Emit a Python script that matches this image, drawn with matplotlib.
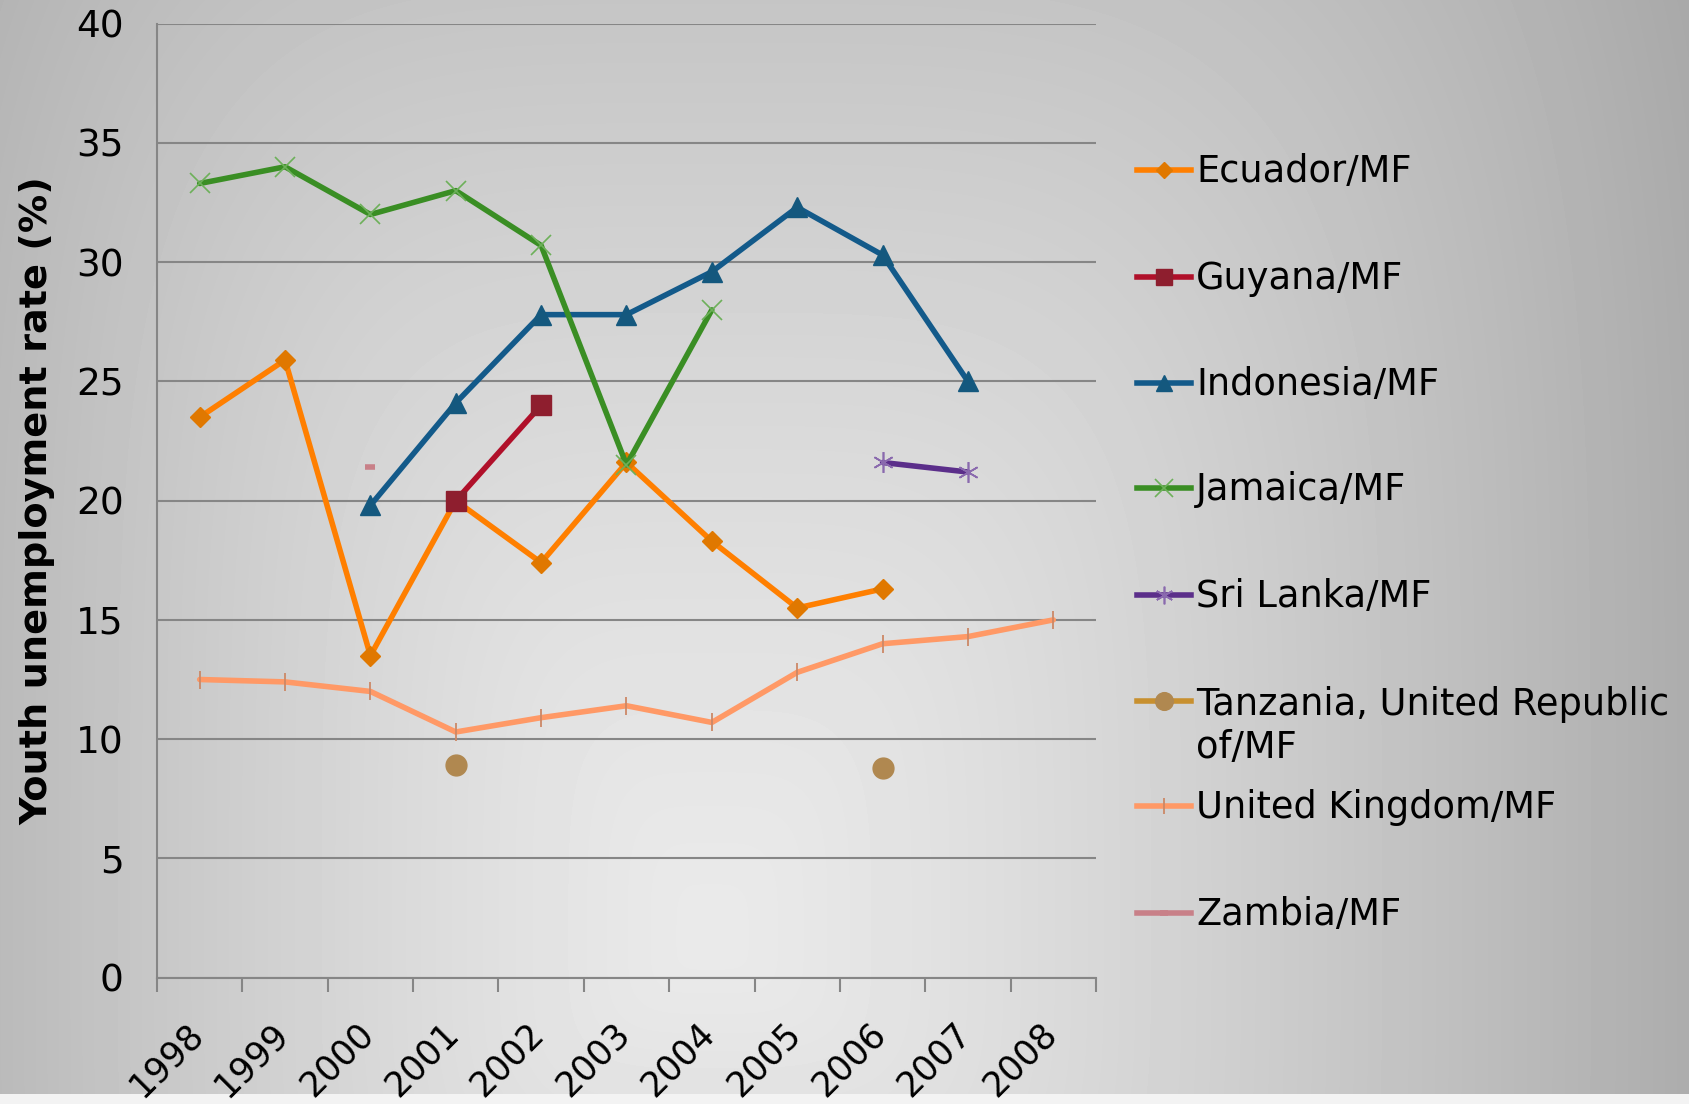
import numpy as np
import matplotlib
matplotlib.use("Agg")
import matplotlib.pyplot as plt
from matplotlib.lines import Line2D
from matplotlib.transforms import ScaledTranslation

nan = np.nan
years = ["1998", "1999", "2000", "2001", "2002", "2003", "2004", "2005", "2006", "2007", "2008"]

ecuador   = [23.5, 25.9, 13.5, 20.0, 17.4, 21.6, 18.3, 15.5, 16.3, nan, nan]
guyana    = [nan, nan, nan, 20.0, 24.0, nan, nan, nan, nan, nan, nan]
indonesia = [nan, nan, 19.8, 24.1, 27.8, 27.8, 29.6, 32.3, 30.3, 25.0, nan]
jamaica   = [33.3, 34.0, 32.0, 33.0, 30.7, 21.5, 28.0, nan, nan, nan, nan]
sri_lanka = [nan, nan, nan, nan, nan, nan, nan, nan, 21.6, 21.2, nan]
tanzania  = [nan, nan, nan, 8.9, nan, nan, nan, nan, 8.8, nan, nan]
uk        = [12.5, 12.4, 12.0, 10.3, 10.9, 11.4, 10.7, 12.8, 14.0, 14.3, 15.0]
zambia    = [nan, nan, 21.4, nan, nan, nan, nan, nan, nan, nan, nan]

labels = ["Ecuador/MF", "Guyana/MF", "Indonesia/MF", "Jamaica/MF", "Sri Lanka/MF",
          "Tanzania, United Republic\nof/MF", "United Kingdom/MF", "Zambia/MF"]
series = [ecuador, guyana, indonesia, jamaica, sri_lanka, tanzania, uk, zambia]

styles = [
    dict(color="#FF7F00", marker="D", ms=10, mfc="#E07800", mec="#E07800", mew=1),
    dict(color="#B0102A", marker="s", ms=14, mfc="#8E1E2E", mec="#8E1E2E", mew=1),
    dict(color="#135A8A", marker="^", ms=14, mfc="#14587E", mec="#14587E", mew=1),
    dict(color="#3A8E24", marker="x", ms=15, mfc="#6DB05A", mec="#6DB05A", mew=1.2),
    dict(color="#5B2E8A", marker=(6, 2, 0), ms=15, mfc="#8A6AAE", mec="#8A6AAE", mew=1.2),
    dict(color="#C8902F", marker="o", ms=15, mfc="#B08850", mec="#B08850", mew=1),
    dict(color="#FF9966", marker="|", ms=13, mfc="#CC8866", mec="#CC8866", mew=1.3),
    dict(color="#C88088", marker="_", ms=7, mfc="#C88088", mec="#C88088", mew=4),
]

W, H = 1690, 1104
fig = plt.figure(figsize=(W / 100, H / 100), dpi=100)

# background gradient
yy, xx = np.mgrid[0:H, 0:W]
xn = xx / W
yn = yy / H
cx, cy = 0.42, 0.85
dx = np.where(xn >= cx, (xn - cx) / (1 - cx) * 0.95, (cx - xn) / cx * 0.78)
dy = np.where(yn <= cy, (cy - yn) / cy * 0.64, (yn - cy) / (1 - cy) * 0.2)
r = (dx ** 4 + dy ** 4) ** 0.25
val = 234 - 66 * np.clip(r, 0, 1) ** 1.3
val[H - 10:, :] = 244
bg = fig.add_axes([0, 0, 1, 1], zorder=-10)
bg.imshow(val, cmap="gray", vmin=0, vmax=255, aspect="auto", interpolation="bilinear")
bg.axis("off")

left, right, top, bottom = 157, 1096, 23.7, 977.6
ax = fig.add_axes([left / W, 1 - bottom / H, (right - left) / W, (bottom - top) / H])
ax.set_facecolor("none")

x = np.arange(len(years))
for s, st in zip(series, styles):
    ax.plot(x, s, lw=4, solid_capstyle="round", **st)

ax.set_xlim(-0.5, len(years) - 0.5)
ax.set_ylim(0, 40)
ax.set_yticks(np.arange(0, 41, 5))
ax.yaxis.grid(True, color="#868686", lw=1.5)
ax.set_axisbelow(True)
for sp in ["top", "right"]:
    ax.spines[sp].set_visible(False)
for sp in ["left", "bottom"]:
    ax.spines[sp].set_color("#868686")
    ax.spines[sp].set_linewidth(1.5)

ax.set_xticks(x)
ax.set_xticks(np.arange(-0.5, len(years), 1.0), minor=True)
ax.tick_params(axis="x", which="major", length=0, pad=28, labelsize=25, labelcolor="black")
ax.tick_params(axis="x", which="minor", length=10, width=1.5, color="#868686")
ax.tick_params(axis="y", length=0, pad=24, labelsize=27, labelcolor="black")
ax.set_xticklabels(years, rotation=45, ha="right", va="top")
shift = ScaledTranslation(7 / 72, 0, fig.dpi_scale_trans)
for t in ax.get_xticklabels():
    t.set_transform(t.get_transform() + shift)

ax.set_ylabel("Youth unemployment rate (%)", fontsize=27.5, fontweight="bold")
ax.yaxis.set_label_coords(-0.108, 0.5)

# legend drawn on the figure
leg_y = [170.3, 277, 382.6, 488.2, 595, 700.6, 806.2, 912.9]
hx0, hx1, tx = 1137, 1191, 1196
for lab, st, ly in zip(labels, styles, leg_y):
    yf = 1 - ly / H
    fig.add_artist(Line2D([hx0 / W, hx1 / W], [yf, yf], transform=fig.transFigure,
                          color=st["color"], lw=4))
    fig.add_artist(Line2D([(hx0 + hx1) / 2 / W], [yf], transform=fig.transFigure,
                          linestyle="none", marker=st["marker"], ms=st["ms"] * 0.85,
                          mfc=st["mfc"], mec=st["mec"], mew=st["mew"]))
    extra = 45 * lab.count("\n")
    fig.text(tx / W, 1 - (ly + 12 + extra) / H, lab, fontsize=26.5, va="baseline",
             ha="left", linespacing=1.2)

fig.savefig("out.png", dpi=100)
